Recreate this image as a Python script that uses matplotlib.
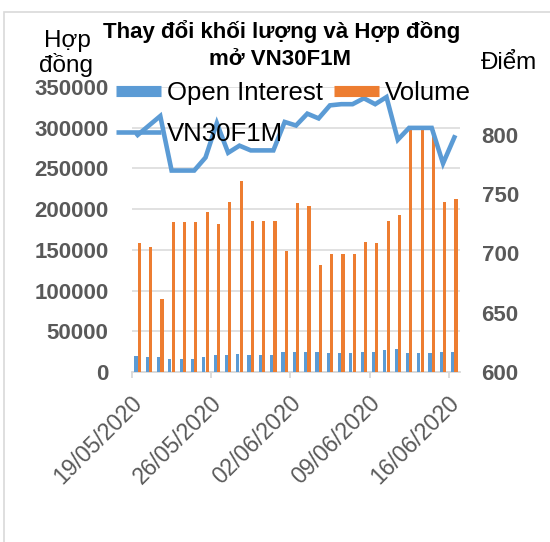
import matplotlib
matplotlib.use('Agg')
import matplotlib.pyplot as plt
from matplotlib.lines import Line2D
from matplotlib.patches import Rectangle
from matplotlib.transforms import ScaledTranslation
import numpy as np

plt.rcParams['font.family'] = ['Liberation Sans', 'DejaVu Sans']

tick_dates = ['19/05/2020', '26/05/2020', '02/06/2020', '09/06/2020', '16/06/2020']
open_interest = [19500, 19000, 19000, 16500, 16500, 16500, 18000, 21000, 20500, 22000,
                 20500, 20500, 20500, 25000, 25000, 25000, 25000, 23000, 23000, 23000,
                 24000, 24000, 27000, 28000, 23000, 23000, 23000, 25000, 25000]
volume = [159000, 154000, 90000, 184000, 184000, 184000, 197000, 182000, 209000, 234000,
          185000, 185000, 185000, 148000, 207000, 204000, 132000, 145000, 145000, 145000,
          160000, 158000, 186000, 193000, 297000, 297000, 297000, 209000, 213000]
vn30 = [800, 808, 816, 770, 770, 770, 781, 810, 785, 791,
        787, 787, 787, 811, 808, 818, 814, 825, 826, 826,
        831, 826, 832, 796, 806, 806, 806, 776, 798]

BLUE = '#5B9BD5'
ORANGE = '#ED7D31'
GRID = '#D9D9D9'
TXT = '#595959'

W, H = 550, 542
fig = plt.figure(figsize=(W / 100, H / 100), dpi=100)

# chart border
fig.patches.append(Rectangle((4 / W, -0.1), 1.2, 1 - 12 / H + 0.1, transform=fig.transFigure,
                             fill=False, edgecolor=GRID, linewidth=1.2))

ax = fig.add_axes([132 / W, 1 - 372 / H, (460 - 132) / W, (372 - 87) / H])
x = np.arange(len(volume))
bw = 0.28
ax.bar(x - 0.15, open_interest, width=bw, color=BLUE, zorder=3)
ax.bar(x + 0.15, volume, width=bw, color=ORANGE, zorder=3)
ax.set_xlim(-0.5, len(volume) - 0.5)
ax.set_ylim(0, 350000)
ax.set_yticks(np.arange(0, 350001, 50000))
ax.set_yticklabels([str(v) for v in range(0, 350001, 50000)], fontsize=16,
                   fontweight='bold', color=TXT)
ax.tick_params(axis='y', length=0, pad=17)
ax.grid(axis='y', color=GRID, linewidth=1.1, zorder=0)
for s in ['top', 'right', 'left']:
    ax.spines[s].set_visible(False)
ax.spines['bottom'].set_color(GRID)
ax.spines['bottom'].set_linewidth(1.3)

ax.set_xticks([0, 7, 14, 21, 28])
ax.set_xticklabels(tick_dates, rotation=45, ha='right', va='center',
                   rotation_mode='anchor', fontsize=16.5, color=TXT)
ax.set_xticks([-0.5, 6.5, 13.5, 20.5, 27.5], minor=True)
ax.tick_params(axis='x', which='major', length=0, pad=20)
ax.tick_params(axis='x', which='minor', length=4, color=GRID, width=1.3)
for lab in ax.get_xticklabels():
    lab.set_transform(lab.get_transform() + ScaledTranslation(1 / 100, 0, fig.dpi_scale_trans))

ax2 = ax.twinx()
ax2.plot(x, vn30, color=BLUE, linewidth=3.3, solid_joinstyle='miter', zorder=4)
ax2.set_ylim(600, 840.5)
ax2.set_yticks([600, 650, 700, 750, 800])
ax2.set_yticklabels(['600', '650', '700', '750', '800'], fontsize=16,
                    fontweight='bold', color=TXT)
ax2.tick_params(axis='y', length=0, pad=15.5)
for s in ['top', 'right', 'left', 'bottom']:
    ax2.spines[s].set_visible(False)

# legend
handles = [Line2D([], [], color=BLUE, linewidth=8, solid_capstyle='butt'),
           Line2D([], [], color=BLUE, linewidth=3.3, solid_capstyle='butt'),
           Line2D([], [], color=ORANGE, linewidth=8, solid_capstyle='butt')]
labels = ['Open Interest', 'VN30F1M', 'Volume']
fig.legend(handles, labels, ncol=2, loc='upper left', bbox_to_anchor=(116 / W, 1 - 81 / H),
           frameon=False, fontsize=18.5, handlelength=1.75, handletextpad=0.25,
           columnspacing=0.4, labelspacing=0.68, borderaxespad=0, borderpad=0)

# titles
fig.text(282 / W, 1 - 38 / H, 'Thay đổi khối lượng và Hợp đồng', ha='center', va='baseline',
         fontsize=16, fontweight='bold', color='black')
fig.text(280 / W, 1 - 65 / H, 'mở VN30F1M', ha='center', va='baseline',
         fontsize=16, fontweight='bold', color='black')
fig.text(67 / W, 1 - 47 / H, 'Hợp', ha='center', va='baseline', fontsize=17.5, color='black')
fig.text(66 / W, 1 - 72 / H, 'đồng', ha='center', va='baseline', fontsize=17.5, color='black')
fig.text(509 / W, 1 - 69 / H, 'Điểm', ha='center', va='baseline', fontsize=17.5, color='black')

fig.savefig('out.png', dpi=100)
